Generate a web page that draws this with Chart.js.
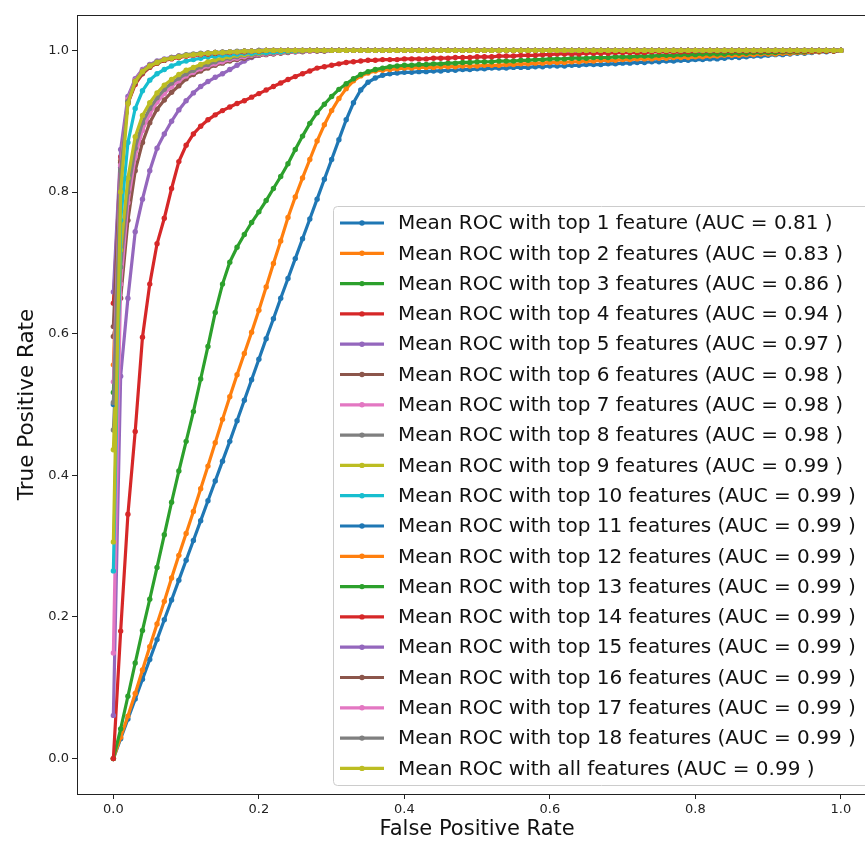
<!DOCTYPE html>
<html>
<head>
<meta charset="utf-8">
<script src="https://cdn.jsdelivr.net/npm/chart.js@4.4.0/dist/chart.umd.min.js"></script>
<style>
html, body { margin: 0; padding: 0; background: #fff; overflow: hidden; }
#wrap { width: 880px; height: 845px; }
</style>
</head>
<body>
<div id="wrap"><canvas id="roc" width="880" height="845"></canvas></div>
<script>
// false positive rate grid shared by all curves
var fpr = [0,.01,.02,.03,.04,.05,.06,.07,.08,.09,
  .10,.11,.12,.13,.14,.15,.16,.17,.18,.19,
  .20,.21,.22,.23,.24,.25,.26,.27,.28,.29,
  .30,.31,.32,.33,.34,.35,.36,.37,.38,.39,
  .40,.41,.42,.43,.44,.45,.46,.47,.48,.49,
  .50,.51,.52,.53,.54,.55,.56,.57,.58,.59,
  .60,.61,.62,.63,.64,.65,.66,.67,.68,.69,
  .70,.71,.72,.73,.74,.75,.76,.77,.78,.79,
  .80,.81,.82,.83,.84,.85,.86,.87,.88,.89,
  .90,.91,.92,.93,.94,.95,.96,.97,.98,.99,
  1];

var tprTop1 = [0,.028,.056,.084,.112,.140,.168,.196,.224,.252,
  .280,.308,.336,.364,.392,.420,.448,.477,.506,.535,
  .564,.593,.621,.650,.678,.706,.734,.762,.790,.818,
  .846,.874,.902,.926,.944,.955,.961,.965,.967,.968,
  .969,.969,.970,.970,.971,.971,.972,.972,.973,.973,
  .974,.974,.975,.975,.975,.976,.976,.976,.977,.977,
  .978,.978,.978,.979,.979,.980,.980,.980,.981,.981,
  .982,.982,.983,.983,.984,.984,.985,.985,.986,.986,
  .987,.987,.988,.988,.989,.990,.990,.991,.992,.992,
  .993,.994,.994,.995,.996,.996,.997,.998,.998,.999,
  1];
var tprTop2 = [0,.030,.060,.092,.125,.158,.190,.222,.255,.287,
  .318,.349,.381,.413,.446,.479,.511,.542,.572,.602,
  .633,.666,.699,.731,.764,.793,.820,.846,.872,.895,
  .915,.932,.946,.957,.964,.968,.971,.972,.973,.974,
  .975,.975,.976,.976,.976,.977,.977,.977,.978,.978,
  .978,.979,.979,.979,.980,.980,.981,.981,.982,.982,
  .983,.983,.983,.984,.984,.985,.985,.986,.986,.986,
  .987,.987,.988,.988,.988,.989,.989,.990,.990,.990,
  .991,.991,.992,.992,.993,.993,.993,.994,.994,.995,
  .995,.995,.996,.996,.997,.997,.998,.998,.999,.999,
  1];
var tprTop3 = [0,.042,.088,.135,.181,.225,.270,.316,.362,.406,
  .448,.490,.536,.582,.630,.670,.701,.722,.740,.757,
  .772,.788,.805,.822,.840,.860,.879,.897,.912,.924,
  .935,.945,.953,.960,.966,.970,.973,.975,.977,.978,
  .979,.979,.980,.980,.981,.981,.982,.982,.983,.983,
  .984,.984,.984,.985,.985,.985,.986,.986,.987,.987,
  .988,.988,.988,.989,.989,.989,.990,.990,.990,.991,
  .991,.991,.992,.992,.992,.993,.993,.993,.994,.994,
  .994,.995,.995,.995,.995,.996,.996,.996,.997,.997,
  .997,.997,.998,.998,.998,.998,.999,.999,.999,.999,
  1];
var tprTop4 = [0,.180,.345,.462,.595,.670,.727,.763,.805,.843,
  .866,.882,.893,.902,.909,.915,.920,.925,.929,.934,
  .939,.944,.949,.954,.959,.963,.967,.971,.975,.977,
  .979,.981,.983,.984,.985,.986,.986,.987,.987,.987,
  .988,.988,.988,.988,.989,.989,.989,.990,.990,.990,
  .991,.991,.991,.992,.992,.992,.993,.993,.993,.994,
  .994,.995,.995,.995,.995,.996,.996,.996,.996,.997,
  .997,.997,.997,.997,.998,.998,.998,.998,.998,.998,
  .999,.999,.999,.999,.999,.999,.999,.999,.999,.999,
  .999,.999,.999,.999,.999,.999,.999,.999,.999,.999,
  1];
var tprTop5 = [.061,.540,.650,.744,.790,.830,.862,.882,.900,.916,
  .929,.940,.949,.956,.962,.967,.973,.979,.985,.990,
  .993,.995,.996,.997,.998,.998,.999,.999,.999,.999,
  1,1,1,1,1,1,1,1,1,1,
  1,1,1,1,1,1,1,1,1,1,
  1,1,1,1,1,1,1,1,1,1,
  1,1,1,1,1,1,1,1,1,1,
  1,1,1,1,1,1,1,1,1,1,
  1,1,1,1,1,1,1,1,1,1,
  1,1,1,1,1,1,1,1,1,1,
  1];
var tprTop6 = [.596,.650,.760,.830,.870,.898,.917,.930,.941,.950,
  .960,.966,.971,.975,.979,.982,.985,.987,.989,.991,
  .993,.994,.995,.996,.997,.998,.998,.999,.999,.999,
  1,1,1,1,1,1,1,1,1,1,
  1,1,1,1,1,1,1,1,1,1,
  1,1,1,1,1,1,1,1,1,1,
  1,1,1,1,1,1,1,1,1,1,
  1,1,1,1,1,1,1,1,1,1,
  1,1,1,1,1,1,1,1,1,1,
  1,1,1,1,1,1,1,1,1,1,
  1];
var tprTop7 = [.149,.670,.785,.850,.887,.910,.927,.939,.949,.957,
  .964,.969,.974,.978,.981,.984,.987,.989,.991,.993,
  .994,.995,.996,.997,.998,.998,.999,.999,1,1,
  1,1,1,1,1,1,1,1,1,1,
  1,1,1,1,1,1,1,1,1,1,
  1,1,1,1,1,1,1,1,1,1,
  1,1,1,1,1,1,1,1,1,1,
  1,1,1,1,1,1,1,1,1,1,
  1,1,1,1,1,1,1,1,1,1,
  1,1,1,1,1,1,1,1,1,1,
  1];
var tprTop8 = [.464,.694,.800,.862,.898,.918,.933,.945,.954,.961,
  .967,.972,.977,.980,.984,.987,.989,.991,.993,.994,
  .995,.996,.997,.998,.998,.999,.999,1,1,1,
  1,1,1,1,1,1,1,1,1,1,
  1,1,1,1,1,1,1,1,1,1,
  1,1,1,1,1,1,1,1,1,1,
  1,1,1,1,1,1,1,1,1,1,
  1,1,1,1,1,1,1,1,1,1,
  1,1,1,1,1,1,1,1,1,1,
  1,1,1,1,1,1,1,1,1,1,
  1];
var tprTop9 = [.436,.718,.820,.878,.908,.926,.940,.951,.959,.966,
  .972,.976,.980,.984,.987,.989,.991,.993,.994,.995,
  .996,.997,.998,.998,.999,.999,1,1,1,1,
  1,1,1,1,1,1,1,1,1,1,
  1,1,1,1,1,1,1,1,1,1,
  1,1,1,1,1,1,1,1,1,1,
  1,1,1,1,1,1,1,1,1,1,
  1,1,1,1,1,1,1,1,1,1,
  1,1,1,1,1,1,1,1,1,1,
  1,1,1,1,1,1,1,1,1,1,
  1];
var tprTop10 = [.265,.760,.870,.918,.943,.958,.967,.973,.978,.982,
  .985,.987,.989,.991,.992,.993,.994,.995,.996,.996,
  .997,.997,.998,.998,.999,.999,1,1,1,1,
  1,1,1,1,1,1,1,1,1,1,
  1,1,1,1,1,1,1,1,1,1,
  1,1,1,1,1,1,1,1,1,1,
  1,1,1,1,1,1,1,1,1,1,
  1,1,1,1,1,1,1,1,1,1,
  1,1,1,1,1,1,1,1,1,1,
  1,1,1,1,1,1,1,1,1,1,
  1];
var tprTop11 = [.500,.835,.928,.956,.970,.978,.983,.986,.989,.991,
  .993,.994,.995,.996,.997,.997,.998,.998,.999,.999,
  .999,1,1,1,1,1,1,1,1,1,
  1,1,1,1,1,1,1,1,1,1,
  1,1,1,1,1,1,1,1,1,1,
  1,1,1,1,1,1,1,1,1,1,
  1,1,1,1,1,1,1,1,1,1,
  1,1,1,1,1,1,1,1,1,1,
  1,1,1,1,1,1,1,1,1,1,
  1,1,1,1,1,1,1,1,1,1,
  1];
var tprTop12 = [.556,.845,.930,.958,.971,.979,.984,.987,.989,.991,
  .992,.993,.994,.995,.996,.997,.997,.998,.998,.999,
  .999,1,1,1,1,1,1,1,1,1,
  1,1,1,1,1,1,1,1,1,1,
  1,1,1,1,1,1,1,1,1,1,
  1,1,1,1,1,1,1,1,1,1,
  1,1,1,1,1,1,1,1,1,1,
  1,1,1,1,1,1,1,1,1,1,
  1,1,1,1,1,1,1,1,1,1,
  1,1,1,1,1,1,1,1,1,1,
  1];
var tprTop13 = [.517,.840,.927,.955,.969,.977,.982,.986,.989,.991,
  .993,.994,.995,.996,.996,.997,.998,.998,.999,.999,
  1,1,1,1,1,1,1,1,1,1,
  1,1,1,1,1,1,1,1,1,1,
  1,1,1,1,1,1,1,1,1,1,
  1,1,1,1,1,1,1,1,1,1,
  1,1,1,1,1,1,1,1,1,1,
  1,1,1,1,1,1,1,1,1,1,
  1,1,1,1,1,1,1,1,1,1,
  1,1,1,1,1,1,1,1,1,1,
  1];
var tprTop14 = [.643,.850,.925,.952,.967,.976,.982,.986,.988,.990,
  .992,.993,.994,.995,.996,.997,.997,.998,.998,.999,
  .999,1,1,1,1,1,1,1,1,1,
  1,1,1,1,1,1,1,1,1,1,
  1,1,1,1,1,1,1,1,1,1,
  1,1,1,1,1,1,1,1,1,1,
  1,1,1,1,1,1,1,1,1,1,
  1,1,1,1,1,1,1,1,1,1,
  1,1,1,1,1,1,1,1,1,1,
  1,1,1,1,1,1,1,1,1,1,
  1];
var tprTop15 = [.659,.860,.935,.960,.973,.980,.985,.988,.990,.992,
  .993,.994,.995,.996,.997,.997,.998,.998,.999,.999,
  1,1,1,1,1,1,1,1,1,1,
  1,1,1,1,1,1,1,1,1,1,
  1,1,1,1,1,1,1,1,1,1,
  1,1,1,1,1,1,1,1,1,1,
  1,1,1,1,1,1,1,1,1,1,
  1,1,1,1,1,1,1,1,1,1,
  1,1,1,1,1,1,1,1,1,1,
  1,1,1,1,1,1,1,1,1,1,
  1];
var tprTop16 = [.610,.842,.926,.954,.968,.977,.983,.987,.989,.991,
  .993,.994,.995,.996,.997,.997,.998,.998,.999,.999,
  .999,1,1,1,1,1,1,1,1,1,
  1,1,1,1,1,1,1,1,1,1,
  1,1,1,1,1,1,1,1,1,1,
  1,1,1,1,1,1,1,1,1,1,
  1,1,1,1,1,1,1,1,1,1,
  1,1,1,1,1,1,1,1,1,1,
  1,1,1,1,1,1,1,1,1,1,
  1,1,1,1,1,1,1,1,1,1,
  1];
var tprTop17 = [.532,.838,.931,.958,.972,.979,.984,.987,.990,.992,
  .993,.994,.995,.996,.997,.997,.998,.998,.999,.999,
  1,1,1,1,1,1,1,1,1,1,
  1,1,1,1,1,1,1,1,1,1,
  1,1,1,1,1,1,1,1,1,1,
  1,1,1,1,1,1,1,1,1,1,
  1,1,1,1,1,1,1,1,1,1,
  1,1,1,1,1,1,1,1,1,1,
  1,1,1,1,1,1,1,1,1,1,
  1,1,1,1,1,1,1,1,1,1,
  1];
var tprTop18 = [.503,.830,.928,.957,.971,.979,.984,.987,.990,.992,
  .994,.995,.996,.996,.997,.998,.998,.999,.999,.999,
  1,1,1,1,1,1,1,1,1,1,
  1,1,1,1,1,1,1,1,1,1,
  1,1,1,1,1,1,1,1,1,1,
  1,1,1,1,1,1,1,1,1,1,
  1,1,1,1,1,1,1,1,1,1,
  1,1,1,1,1,1,1,1,1,1,
  1,1,1,1,1,1,1,1,1,1,
  1,1,1,1,1,1,1,1,1,1,
  1];
var tprAll = [.306,.800,.925,.956,.970,.978,.983,.987,.989,.991,
  .993,.994,.995,.996,.997,.997,.998,.998,.999,.999,
  .999,1,1,1,1,1,1,1,1,1,
  1,1,1,1,1,1,1,1,1,1,
  1,1,1,1,1,1,1,1,1,1,
  1,1,1,1,1,1,1,1,1,1,
  1,1,1,1,1,1,1,1,1,1,
  1,1,1,1,1,1,1,1,1,1,
  1,1,1,1,1,1,1,1,1,1,
  1,1,1,1,1,1,1,1,1,1,
  1];

var seriesNames = ['top 1 feature', 'top 2 features', 'top 3 features', 'top 4 features',
  'top 5 features', 'top 6 features', 'top 7 features', 'top 8 features', 'top 9 features',
  'top 10 features', 'top 11 features', 'top 12 features', 'top 13 features', 'top 14 features',
  'top 15 features', 'top 16 features', 'top 17 features', 'top 18 features', 'all features'];
var aucs = [0.81, 0.83, 0.86, 0.94, 0.97, 0.98, 0.98, 0.98, 0.99, 0.99,
  0.99, 0.99, 0.99, 0.99, 0.99, 0.99, 0.99, 0.99, 0.99];
var tprs = [tprTop1, tprTop2, tprTop3, tprTop4, tprTop5, tprTop6, tprTop7, tprTop8, tprTop9,
  tprTop10, tprTop11, tprTop12, tprTop13, tprTop14, tprTop15, tprTop16, tprTop17, tprTop18, tprAll];
var xTicks = [0, 0.2, 0.4, 0.6, 0.8, 1.0];
var yTicks = [0, 0.2, 0.4, 0.6, 0.8, 1.0];

// matplotlib tab10
var palette = ['#1f77b4', '#ff7f0e', '#2ca02c', '#d62728', '#9467bd',
  '#8c564b', '#e377c2', '#7f7f7f', '#bcbd22', '#17becf'];

var datasets = [];
for (var i = 0; i < tprs.length; i++) {
  var pts = [];
  for (var j = 0; j < fpr.length; j++) {
    pts.push({x: fpr[j], y: tprs[i][j]});
  }
  var c = palette[i % palette.length];
  datasets.push({
    label: 'Mean ROC with ' + seriesNames[i] + ' (AUC = ' + aucs[i].toFixed(2) + ' )',
    data: pts,
    borderColor: c,
    backgroundColor: c,
    borderWidth: 3.2,
    pointRadius: 2.7,
    pointBorderWidth: 0,
    pointHoverRadius: 0,
    tension: 0,
    order: tprs.length - i   // later curves drawn on top, like matplotlib
  });
}

// axes frame (all four spines)
var frame = {
  id: 'frame',
  afterDraw: function(chart) {
    var a = chart.chartArea, ctx = chart.ctx;
    ctx.save();
    ctx.strokeStyle = '#222';
    ctx.lineWidth = 1;
    ctx.strokeRect(Math.round(a.left) + 0.5, Math.round(a.top) + 0.5,
      Math.round(a.right - a.left), Math.round(a.bottom - a.top));
    ctx.restore();
  }
};

// legend box inside the axes, lower right
var legendBox = {
  id: 'legendBox',
  afterDraw: function(chart) {
    var ctx = chart.ctx;
    var x0 = 333.5, y0 = 206.5, w = 536, h = 579, r = 4;
    ctx.save();
    ctx.beginPath();
    ctx.moveTo(x0 + r, y0);
    ctx.arcTo(x0 + w, y0, x0 + w, y0 + h, r);
    ctx.arcTo(x0 + w, y0 + h, x0, y0 + h, r);
    ctx.arcTo(x0, y0 + h, x0, y0, r);
    ctx.arcTo(x0, y0, x0 + w, y0, r);
    ctx.closePath();
    ctx.fillStyle = 'rgba(255,255,255,0.8)';
    ctx.fill();
    ctx.strokeStyle = '#cccccc';
    ctx.lineWidth = 1;
    ctx.stroke();
    ctx.font = '20px "DejaVu Sans"';
    ctx.textBaseline = 'middle';
    chart.data.datasets.forEach(function(ds, k) {
      var y = 223 + k * 30.3;
      ctx.strokeStyle = ds.borderColor;
      ctx.lineWidth = 3.2;
      ctx.beginPath();
      ctx.moveTo(340, y);
      ctx.lineTo(384, y);
      ctx.stroke();
      ctx.fillStyle = ds.borderColor;
      ctx.beginPath();
      ctx.arc(362, y, 2.7, 0, Math.PI * 2);
      ctx.fill();
      ctx.fillStyle = '#111';
      ctx.fillText(ds.label, 398, y + 1);
    });
    ctx.restore();
  }
};

Chart.defaults.font.family = '"DejaVu Sans", sans-serif';
Chart.defaults.color = '#222';

var ctx = document.getElementById('roc').getContext('2d');
var chart = new Chart(ctx, {
  type: 'line',
  data: { datasets: datasets },
  options: {
    responsive: false,
    animation: false,
    devicePixelRatio: 1,
    layout: { padding: { top: 15, right: 2, left: 0, bottom: 0 } },
    plugins: {
      legend: { display: false },
      tooltip: { enabled: false }
    },
    scales: {
      x: {
        type: 'linear',
        min: -0.05,
        max: 1.05,
        afterBuildTicks: function(axis) {
          axis.ticks = xTicks.map(function(v) { return {value: v}; });
        },
        afterFit: function(scale) { scale.height = 51; },
        ticks: {
          font: { size: 13 },
          color: '#222',
          padding: 3,
          maxRotation: 0,
          callback: function(v) { return Number(v).toFixed(1); }
        },
        grid: { drawOnChartArea: false, drawTicks: true, tickLength: 5, color: '#222' },
        border: { display: false },
        title: { display: true, text: 'False Positive Rate', font: { size: 21 }, color: '#111',
          padding: { top: 0, bottom: 3 } }
      },
      y: {
        type: 'linear',
        min: -0.05,
        max: 1.05,
        afterBuildTicks: function(axis) {
          axis.ticks = yTicks.map(function(v) { return {value: v}; });
        },
        afterFit: function(scale) { scale.width = 77; },
        ticks: {
          font: { size: 13 },
          color: '#222',
          padding: 3,
          callback: function(v) { return Number(v).toFixed(1); }
        },
        grid: { drawOnChartArea: false, drawTicks: true, tickLength: 5, color: '#222' },
        border: { display: false },
        title: { display: true, text: 'True Positive Rate', font: { size: 21.5 }, color: '#111',
          padding: { top: 15, bottom: 0 } }
      }
    }
  },
  plugins: [frame, legendBox]
});
</script>
</body>
</html>
